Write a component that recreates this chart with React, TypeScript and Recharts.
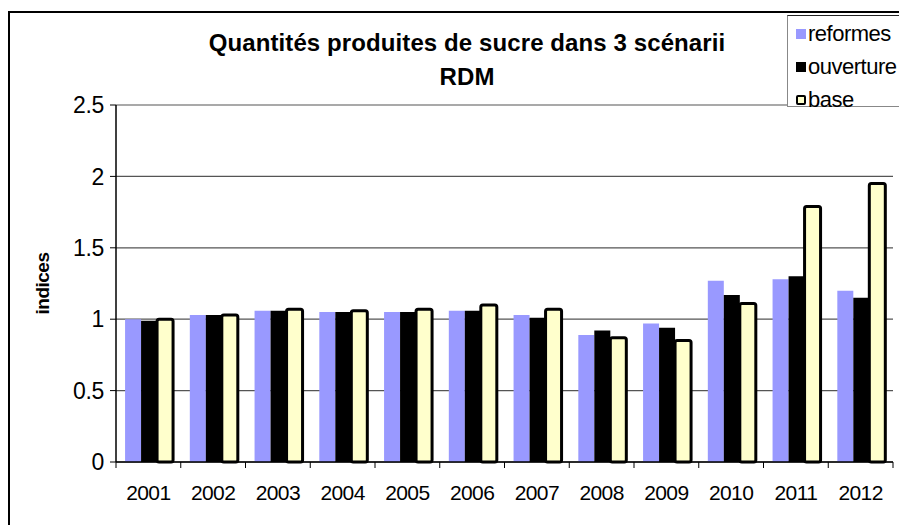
import { BarChart, Bar, XAxis, YAxis, CartesianGrid, Legend } from "recharts";

const annees = ["2001", "2002", "2003", "2004", "2005", "2006", "2007", "2008", "2009", "2010", "2011", "2012"];
const reformes = [1.0, 1.03, 1.06, 1.05, 1.05, 1.06, 1.03, 0.89, 0.97, 1.27, 1.28, 1.2];
const ouverture = [0.99, 1.03, 1.06, 1.05, 1.05, 1.06, 1.01, 0.92, 0.94, 1.17, 1.3, 1.15];
const base = [1.0, 1.03, 1.07, 1.06, 1.07, 1.1, 1.07, 0.87, 0.85, 1.11, 1.79, 1.95];
const yTicks = [0, 0.5, 1, 1.5, 2, 2.5];
const ordreLegende = ["reformes", "ouverture", "base"];

const W = 899;
const H = 525;
const margin = { top: 105, right: 6, bottom: 23, left: 56 };
const yAxisW = 60;
const FONT = "'Liberation Sans', Arial, sans-serif";

const data = annees.map((annee, i) => ({
  annee,
  reformes: reformes[i],
  ouverture: ouverture[i],
  base: base[i],
}));

const plotW = W - margin.left - yAxisW - margin.right;
const demiBande = plotW / annees.length / 2;

function TickAnnee(props: any) {
  const { x, y, payload, index } = props;
  return (
    <g>
      <line x1={x - demiBande} y1={y - 8} x2={x - demiBande} y2={y - 2} stroke="#000" />
      {index === annees.length - 1 && (
        <line x1={x + demiBande} y1={y - 8} x2={x + demiBande} y2={y - 2} stroke="#000" />
      )}
      <text x={x} y={y + 30} textAnchor="middle" fontSize={21} fontFamily={FONT} fill="#000" letterSpacing={-0.6}>
        {payload.value}
      </text>
    </g>
  );
}

function Legende(props: any) {
  const items = [...(props.payload || [])].sort(
    (a: any, b: any) => ordreLegende.indexOf(a.value) - ordreLegende.indexOf(b.value)
  );
  return (
    <div
      style={{
        width: 120,
        height: 92,
        background: "#fff",
        borderLeft: "1px solid #888",
        borderTop: "1px solid #222",
        borderBottom: "1px solid #888",
        fontFamily: FONT,
        fontSize: 22,
        paddingTop: 1,
        boxSizing: "border-box",
      }}
    >
      {items.map((p: any) => (
        <div key={p.value} style={{ height: 33, display: "flex", alignItems: "center", paddingLeft: 8 }}>
          <span
            style={{
              display: "inline-block",
              width: p.value === "base" ? 6 : 10,
              height: p.value === "base" ? 6 : 10,
              background: p.value === "base" ? "#FFFFCC" : p.color,
              border: p.value === "base" ? "2px solid #000" : "none",
              borderRadius: p.value === "base" ? 2 : 0,
              marginRight: 2,
            }}
          />
          <span style={{ letterSpacing: -0.5 }}>{p.value}</span>
        </div>
      ))}
    </div>
  );
}

export default function App() {
  return (
    <div style={{ position: "absolute", left: 0, top: 0, width: W, height: H, background: "#fff", overflow: "hidden" }}>
      <div
        style={{
          position: "absolute",
          left: 8,
          top: 11,
          width: W,
          height: H,
          borderLeft: "2px solid #000",
          borderTop: "2px solid #000",
        }}
      />
      <div
        style={{
          position: "absolute",
          left: 167,
          width: 600,
          top: 26,
          textAlign: "center",
          fontFamily: FONT,
          fontWeight: "bold",
          fontSize: 24,
          lineHeight: "34px",
          letterSpacing: 0.1,
        }}
      >
        <div>Quantités produites de sucre dans 3 scénarii</div>
        <div>RDM</div>
      </div>
      <div style={{ position: "absolute", left: 0, top: 0 }}>
        <BarChart width={W} height={H} data={data} margin={margin} barCategoryGap="14%" barGap={0}>
          <CartesianGrid vertical={false} stroke="#555" strokeWidth={1.2} />
          <XAxis
            dataKey="annee"
            height={40}
            tickLine={false}
            axisLine={{ stroke: "#000", strokeWidth: 1.5 }}
            tick={<TickAnnee />}
            interval={0}
          />
          <YAxis
            domain={[0, 2.5]}
            ticks={yTicks}
            width={yAxisW}
            axisLine={{ stroke: "#000", strokeWidth: 1.5 }}
            tickLine={{ stroke: "#000" }}
            tickSize={6}
            tickMargin={6}
            tick={{ fill: "#000", fontSize: 23, fontFamily: FONT, letterSpacing: -0.3 }}
            label={{
              value: "indices",
              angle: -90,
              position: "insideLeft",
              offset: -14,
              style: { fontFamily: FONT, fontWeight: "bold", fontSize: 19, fill: "#000", textAnchor: "middle", letterSpacing: -0.5 },
            }}
          />
          <YAxis
            yAxisId="droite"
            orientation="right"
            domain={[0, 2.5]}
            width={0}
            tick={false}
            tickLine={false}
            axisLine={{ stroke: "#888", strokeWidth: 1.5 }}
          />
          <Legend
            layout="vertical"
            align="center"
            verticalAlign="middle"
            content={<Legende />}
            wrapperStyle={{ left: 787, top: 15, width: 120, height: 92 }}
          />
          <Bar dataKey="reformes" name="reformes" fill="#9999FF" isAnimationActive={false} />
          <Bar dataKey="ouverture" name="ouverture" fill="#000000" isAnimationActive={false} />
          <Bar
            dataKey="base"
            name="base"
            fill="#FFFFCC"
            stroke="#000"
            strokeWidth={3}
            radius={2}
            isAnimationActive={false}
          />
        </BarChart>
      </div>
    </div>
  );
}
